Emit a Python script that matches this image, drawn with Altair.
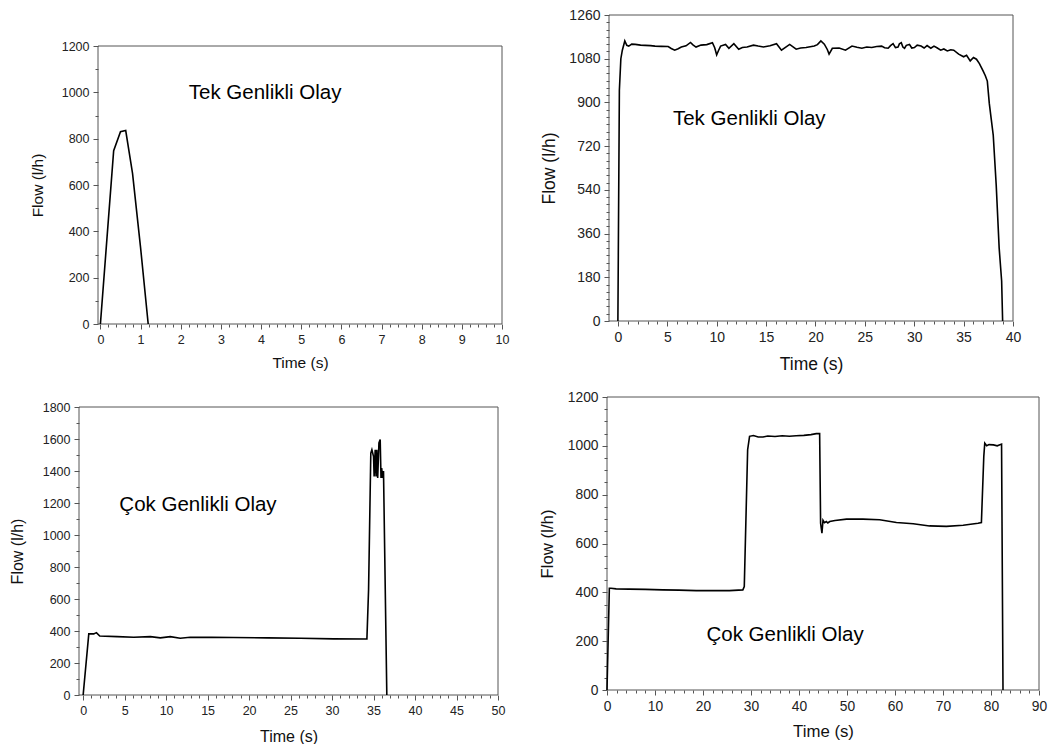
import altair as alt
import pandas as pd

FONT = "Liberation Sans"
AX = "#555555"
W, H = 1048, 736

# ---------------- data ----------------
p1_time = [0.0, 0.33, 0.5, 0.63, 0.8, 1.0, 1.19]
p1_flow = [0, 748, 830, 835, 650, 330, 0]

p2_time = [0.0, 0.15, 0.3, 0.45, 0.7, 0.9, 1.1, 1.4, 1.76, 2.3,
           2.76, 3.3, 3.76, 4.4, 5.09, 5.4, 5.75, 6.1, 6.42, 6.9,
           7.35, 7.6, 7.91, 8.41, 9.0, 9.57, 9.8, 10.0, 10.2, 10.4,
           10.9, 11.24, 11.74, 12.23, 12.6, 13.07, 13.73, 14.2, 14.73, 15.4,
           16.06, 16.56, 17.0, 17.39, 18.05, 18.5, 19.05, 19.88, 20.2, 20.55,
           20.9, 21.2, 21.38, 21.71, 22.4, 23.04, 23.7, 24.2, 24.7, 25.2,
           25.7, 26.2, 26.7, 27.0, 27.36, 27.6, 27.86, 28.1, 28.36, 28.5,
           28.69, 28.85, 29.02, 29.2, 29.52, 29.75, 30.02, 30.3, 30.69, 31.0,
           31.3, 31.68, 32.0, 32.3, 32.68, 33.0, 33.35, 33.7, 34.0, 34.5,
           35.0, 35.3, 35.67, 36.0, 36.3, 36.6, 36.97, 37.2, 37.4, 37.6,
           37.8, 38.0, 38.3, 38.6, 38.85, 38.95]
p2_flow = [0, 950, 1080, 1115, 1153, 1135, 1132, 1140, 1139, 1136,
           1135, 1134, 1132, 1131, 1130, 1122, 1115, 1121, 1128, 1133,
           1147, 1137, 1128, 1136, 1138, 1146, 1125, 1096, 1115, 1132,
           1139, 1123, 1142, 1119, 1126, 1128, 1136, 1132, 1128, 1133,
           1142, 1115, 1128, 1139, 1119, 1124, 1126, 1132, 1138, 1153,
           1140, 1118, 1099, 1123, 1124, 1115, 1132, 1127, 1123, 1128,
           1126, 1130, 1132, 1125, 1123, 1134, 1142, 1126, 1128, 1141,
           1146, 1128, 1123, 1135, 1139, 1124, 1126, 1136, 1132, 1124,
           1134, 1123, 1132, 1125, 1115, 1120, 1112, 1117, 1115, 1099,
           1088, 1094, 1071, 1085, 1078, 1060, 1030, 1010, 988, 896,
           830, 765, 560, 300, 165, 0]

p3_time = [0, 0.68, 1.28, 1.6, 2.0, 4.1, 6.1, 8.1, 9.3, 10.5,
           11.7, 12.9, 15.5, 18.1, 22.2, 26.2, 30.2, 34.2, 34.4, 34.67,
           34.8, 35.0, 35.07, 35.2, 35.3, 35.4, 35.5, 35.65, 35.8, 35.9,
           35.98, 36.1, 36.2, 36.6]
p3_flow = [0, 382, 382, 390, 369, 365, 361, 365, 357, 365,
           355, 361, 360, 359, 357, 355, 351, 350, 657, 1512,
           1533, 1490, 1366, 1533, 1366, 1533, 1356, 1575, 1596, 1356,
           1418, 1356, 1400, 0]

p4_time = [0, 0.49, 0.83, 1.9, 4.66, 8, 11.6, 15, 18.6, 25.5,
           28.3, 28.6, 29.3, 29.7, 30.5, 31.5, 32.5, 33.5, 35.0, 36.5,
           38.0, 39.4, 41.0, 42.5, 43.6, 44.3, 44.5, 44.78, 45.0, 45.3,
           45.7, 46.0, 46.4, 47.5, 49.9, 53.3, 56.8, 60.3, 63.8, 67.2,
           70.7, 74.2, 77.3, 78.0, 78.5, 78.7, 79.1, 79.6, 80.5, 81.3,
           82.2, 82.5]
p4_flow = [0, 417, 417, 414, 413, 412, 410, 409, 407, 407,
           410, 424, 984, 1039, 1042, 1036, 1036, 1040, 1038, 1041,
           1039, 1041, 1043, 1046, 1050, 1050, 683, 642, 695, 685,
           690, 684, 690, 694, 700, 700, 697, 686, 681, 672,
           670, 675, 683, 686, 957, 1011, 1000, 1005, 1004, 1000,
           1007, 0]

# axis ticks
p1_xmaj = list(range(0, 11))
p1_xmin = [round(i * 0.2, 1) for i in range(1, 50) if i % 5]
p1_ymaj = list(range(0, 1201, 200))
p1_ymin = list(range(100, 1200, 200))

p2_xmaj = list(range(0, 41, 5))
p2_xmin = [i for i in range(1, 40) if i % 5]
p2_ymaj = list(range(0, 1261, 180))
p2_ymin = [i for i in range(30, 1260, 30) if i % 180]

p3_xmaj = list(range(0, 51, 5))
p3_xmin = [i for i in range(1, 50) if i % 5]
p3_ymaj = list(range(0, 1801, 200))
p3_ymin = list(range(100, 1800, 200))

p4_xmaj = list(range(0, 91, 10))
p4_xmin = [i for i in range(2, 90, 2) if i % 10]
p4_ymaj = list(range(0, 1201, 200))
p4_ymin = [i for i in range(50, 1200, 50) if i % 200]

notes = ["Tek Genlikli Olay", "Tek Genlikli Olay", "Çok Genlikli Olay", "Çok Genlikli Olay"]


def make_panel(times, flows, xdom, ydom, xmaj, xmin, ymaj, ymin, xr, yr,
               note, note_x, note_y, lab_fs, tit_fs, ytit_pad, xtit_pad):
    xs = alt.Scale(domain=xdom, range=xr, nice=False, zero=False)
    ys = alt.Scale(domain=ydom, range=yr, nice=False, zero=False)
    xoff = yr[0] - H
    yoff = -xr[0]
    common = dict(domain=False, grid=False, tickColor=AX, tickWidth=1, format="d",
                  labelColor="#222222", labelFont=FONT, labelFontSize=lab_fs,
                  titleFont=FONT, titleFontSize=tit_fs, titleFontWeight="normal",
                  titleColor="#111111", labelFlush=False, labelOverlap=False)
    line = alt.Chart(pd.DataFrame({"t": times, "f": flows})).mark_line(
        color="black", strokeWidth=1.6
    ).encode(
        x=alt.X("t:Q", scale=xs,
                axis=alt.Axis(orient="bottom", offset=xoff, values=xmaj, tickSize=5,
                              labelPadding=4, title="Time (s)", titlePadding=xtit_pad, **common)),
        y=alt.Y("f:Q", scale=ys,
                axis=alt.Axis(orient="left", offset=yoff, values=ymaj, tickSize=5,
                              labelPadding=4, title="Flow (l/h)", titlePadding=ytit_pad, **common)),
    )
    frame = alt.Chart(pd.DataFrame({"x0": [xdom[0]], "x1": [xdom[1]],
                                    "y0": [ydom[0]], "y1": [ydom[1]]})).mark_rect(
        fillOpacity=0, stroke=AX, strokeWidth=1
    ).encode(
        x=alt.X("x0:Q", scale=xs,
                axis=alt.Axis(orient="bottom", offset=xoff, values=xmin, tickSize=3,
                              labels=False, title=None, domain=False, grid=False,
                              tickColor=AX)),
        x2="x1:Q",
        y=alt.Y("y0:Q", scale=ys,
                axis=alt.Axis(orient="left", offset=yoff, values=ymin, tickSize=3,
                              labels=False, title=None, domain=False, grid=False,
                              tickColor=AX)),
        y2="y1:Q",
    )
    txt = alt.Chart(pd.DataFrame({"t": [note_x], "f": [note_y], "lab": [note]})).mark_text(
        font=FONT, fontSize=20.5, color="black", align="center", baseline="middle"
    ).encode(
        x=alt.X("t:Q", scale=xs, axis=None),
        y=alt.Y("f:Q", scale=ys, axis=None),
        text="lab:N",
    )
    return alt.layer(frame, line, txt).resolve_axis(x="independent", y="independent")


p1 = make_panel(p1_time, p1_flow, [-0.06, 10], [0, 1200], p1_xmaj, p1_xmin, p1_ymaj, p1_ymin,
                [90, 494], [316, 38], notes[0], 4.1, 997, 12.5, 15.5, 16, 10)
p2 = make_panel(p2_time, p2_flow, [-0.9, 40], [0, 1260], p2_xmaj, p2_xmin, p2_ymaj, p2_ymin,
                [601, 1005], [313, 7], notes[1], 13.3, 832, 14, 17.5, 10, 11)
p3 = make_panel(p3_time, p3_flow, [-0.5, 50], [0, 1800], p3_xmaj, p3_xmin, p3_ymaj, p3_ymin,
                [71, 490], [687, 399], notes[2], 13.84, 1187, 12.5, 16, 17, 12)
p4 = make_panel(p4_time, p4_flow, [0, 90], [0, 1200], p4_xmaj, p4_xmin, p4_ymaj, p4_ymin,
                [599, 1031], [682, 389], notes[3], 37.1, 225, 13.8, 16.8, 11, 11)

chart = alt.layer(p1, p2, p3, p4).resolve_scale(
    x="independent", y="independent"
).resolve_axis(
    x="independent", y="independent"
).properties(
    width=W, height=H, autosize=alt.AutoSizeParams(type="none"), padding=0
).configure_view(stroke=None)

chart.save("out.html", embed_options={"renderer": "svg", "actions": False})
